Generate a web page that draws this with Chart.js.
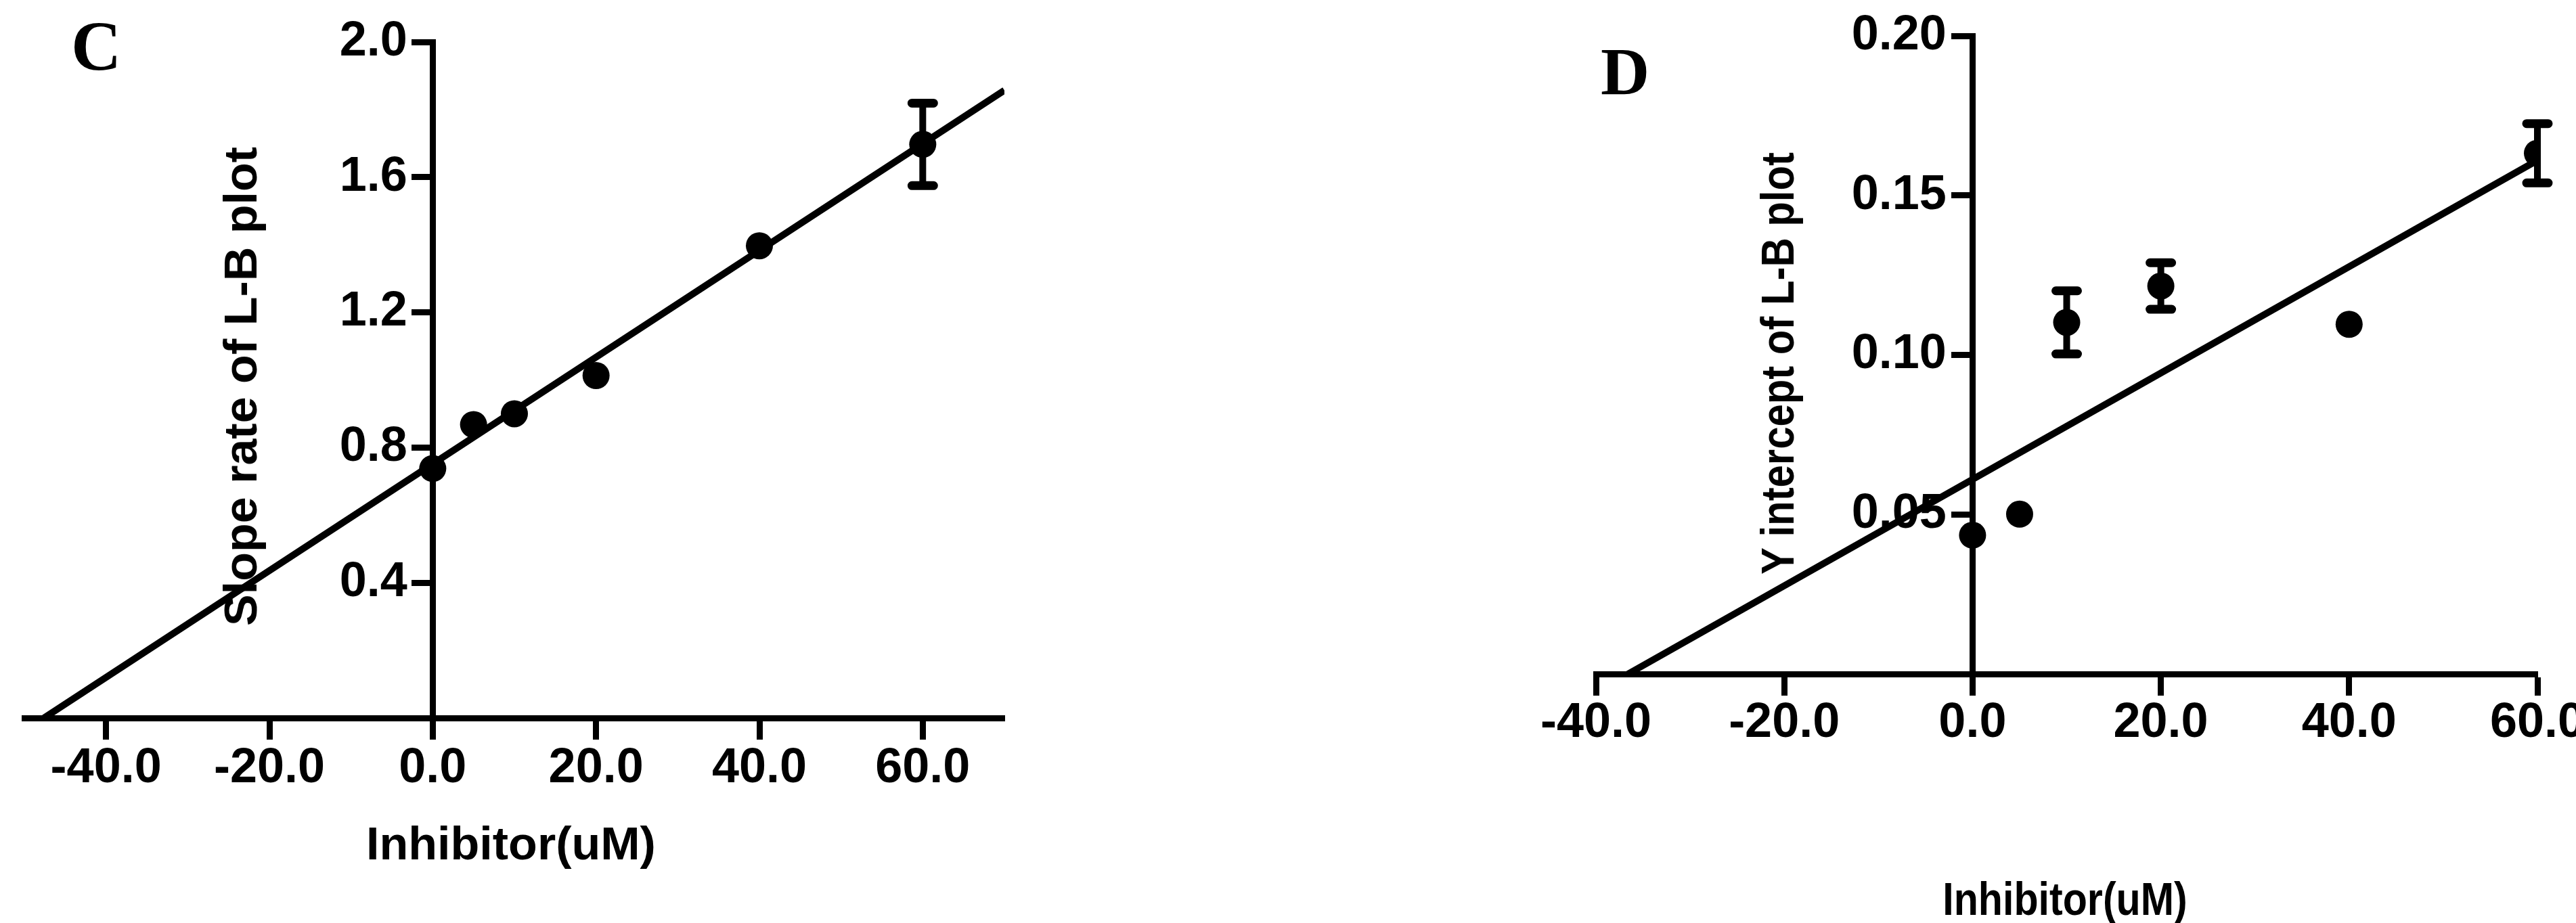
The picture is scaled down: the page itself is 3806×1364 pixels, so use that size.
<!DOCTYPE html>
<html lang="en">
<head>
<meta charset="UTF-8" />
<title>L-B plot slope and Y intercept vs inhibitor</title>
<style>
  html, body {
    margin: 0;
    padding: 0;
    background: #fff;
    overflow: hidden;
  }
  body {
    width: 3806px;
    height: 1364px;
    position: relative;
    font-family: 'Liberation Sans', Arial, sans-serif;
    color: #000;
  }
  canvas {
    position: absolute;
    top: 0;
  }
  #chartC { left: 0; }
  #chartD { left: 2200px; }
  .letter {
    position: absolute;
    font-family: 'Liberation Serif', 'Times New Roman', serif;
    font-weight: 700;
    line-height: 1;
  }
  .title {
    position: absolute;
    font-weight: 700;
    font-size: 68px;
    line-height: 1;
    white-space: nowrap;
  }
</style>
</head>
<body>
  <canvas id="chartC" width="1560" height="1364"></canvas>
  <canvas id="chartD" width="1700" height="1364"></canvas>

  <div class="letter" style="left:105px; top:17px; font-size:103px;">C</div>
  <div class="letter" style="left:2365px; top:56px; font-size:100px;">D</div>

  <div class="title" style="left:755px; top:1246px; transform:translate(-50%,-50%) scaleX(1.03);">Inhibitor(uM)</div>
  <div class="title" style="left:355px; top:571px; transform:translate(-50%,-50%) rotate(-90deg) scaleX(1.03);">Slope rate of L-B plot</div>
  <div class="title" style="left:3051px; top:1328px; transform:translate(-50%,-50%) scaleX(0.87);">Inhibitor(uM)</div>
  <div class="title" style="left:2626px; top:537px; transform:translate(-50%,-50%) rotate(-90deg) scaleX(0.88);">Y intercept of L-B plot</div>

<script src="https://cdn.jsdelivr.net/npm/chart.js"></script>
<script>
  // Panel C: slope of L-B plot
  const inhibitorC = [0, 5, 10, 20, 40, 60];
  const slopeC = [0.738, 0.868, 0.900, 1.013, 1.397, 1.697];
  const slopeErrC = [0, 0, 0, 0, 0, 0.122];
  const fitXC = [-47.6, 70];
  const fitYC = [0, 1.857];
  const xTicksC = [-40, -20, 0, 20, 40, 60];
  const yTicksC = [0.4, 0.8, 1.2, 1.6, 2.0];

  // Panel D: Y intercept of L-B plot
  const inhibitorD = [0, 5, 10, 20, 40, 60];
  const interceptD = [0.0435, 0.0501, 0.1102, 0.1216, 0.1096, 0.1632];
  const interceptErrD = [0, 0, 0.0099, 0.0073, 0, 0.0093];
  const fitXD = [-36.6, 60];
  const fitYD = [0, 0.161];
  const xTicksD = [-40, -20, 0, 20, 40, 60];
  const yTicksD = [0.05, 0.10, 0.15, 0.20];

  Chart.defaults.font.family = "'Liberation Sans', Arial, sans-serif";
  Chart.defaults.color = '#000';

  const tickFont = { size: 72, weight: 'bold' };
  const TICK_LEN = 27;
  const AXIS_W = 9;

  // error bars drawn through the chart scales
  const errorBars = {
    id: 'errorBars',
    afterDatasetsDraw(chart, args, opts) {
      const { ctx } = chart;
      const x = chart.scales.x, y = chart.scales.y;
      ctx.save();
      ctx.strokeStyle = '#000';
      ctx.lineCap = 'round';
      opts.xs.forEach((xv, i) => {
        const e = opts.errs[i];
        if (!e) return;
        const px = x.getPixelForValue(xv);
        const top = y.getPixelForValue(opts.ys[i] + e);
        const bot = y.getPixelForValue(opts.ys[i] - e);
        ctx.lineWidth = 10;
        ctx.beginPath();
        ctx.moveTo(px, top);
        ctx.lineTo(px, bot);
        ctx.stroke();
        ctx.lineWidth = 13;
        ctx.beginPath();
        ctx.moveTo(px - 16, top); ctx.lineTo(px + 16, top);
        ctx.moveTo(px - 16, bot); ctx.lineTo(px + 16, bot);
        ctx.stroke();
      });
      ctx.restore();
    }
  };

  function axisGrid() {
    return { display: true, drawOnChartArea: false, drawTicks: true, tickLength: TICK_LEN, tickWidth: AXIS_W, tickColor: '#000' };
  }

  // y axis sits at x = 0: move its labels left of the tick marks
  function shiftYLabels(pad) {
    return s => {
      if (s._labelsShifted) return;
      const orig = s._computeLabelItems;
      s._computeLabelItems = function (area) {
        const items = orig.call(this, area);
        items.forEach(it => { it.options.translation[0] -= TICK_LEN + AXIS_W / 2 + pad; });
        return items;
      };
      s._labelsShifted = true;
    };
  }

  function makeChart(id, p) {
    return new Chart(document.getElementById(id), {
      type: 'scatter',
      data: {
        datasets: [
          {
            type: 'line',
            data: p.fitX.map((v, i) => ({ x: v, y: p.fitY[i] })),
            borderColor: '#000',
            borderWidth: 10,
            pointRadius: 0,
            fill: false,
            tension: 0
          },
          {
            data: p.xs.map((v, i) => ({ x: v, y: p.ys[i] })),
            backgroundColor: '#000',
            borderWidth: 0,
            pointRadius: 20,
            pointHoverRadius: 20
          }
        ]
      },
      options: {
        responsive: false,
        animation: false,
        events: [],
        layout: { padding: p.pad },
        scales: {
          x: {
            type: 'linear',
            min: p.xMin,
            max: p.xMax,
            position: { y: 0 },
            afterBuildTicks: s => { s.ticks = p.xTicks.map(v => ({ value: v })); },
            ticks: { font: tickFont, padding: p.xPad, maxRotation: 0, autoSkip: false, callback: v => v.toFixed(1) },
            grid: axisGrid(),
            border: { display: true, width: AXIS_W, color: '#000' }
          },
          y: {
            type: 'linear',
            min: 0,
            max: p.yMax,
            position: { x: 0 },
            afterBuildTicks: s => { s.ticks = p.yTicks.map(v => ({ value: v })); },
            afterUpdate: shiftYLabels(p.yPad),
            ticks: { font: tickFont, autoSkip: false, callback: v => v.toFixed(p.yDigits) },
            grid: axisGrid(),
            border: { display: true, width: AXIS_W, color: '#000' }
          }
        },
        plugins: {
          legend: { display: false },
          tooltip: { enabled: false },
          errorBars: { xs: p.xs, ys: p.ys, errs: p.errs }
        }
      },
      plugins: [errorBars]
    });
  }

  makeChart('chartC', {
    xs: inhibitorC, ys: slopeC, errs: slopeErrC,
    fitX: fitXC, fitY: fitYC,
    xTicks: xTicksC, yTicks: yTicksC,
    xMin: -50, xMax: 70, yMax: 2.0, yDigits: 1,
    xPad: 5, yPad: 6,
    pad: { left: 36, right: 76, top: 62, bottom: 303 }
  });

  makeChart('chartD', {
    xs: inhibitorD, ys: interceptD, errs: interceptErrD,
    fitX: fitXD, fitY: fitYD,
    xTicks: xTicksD, yTicks: yTicksD,
    xMin: -40, xMax: 60, yMax: 0.20, yDigits: 2,
    xPad: 3, yPad: 7,
    pad: { left: 158, right: 151, top: 53, bottom: 368 }
  });
</script>
</body>
</html>
